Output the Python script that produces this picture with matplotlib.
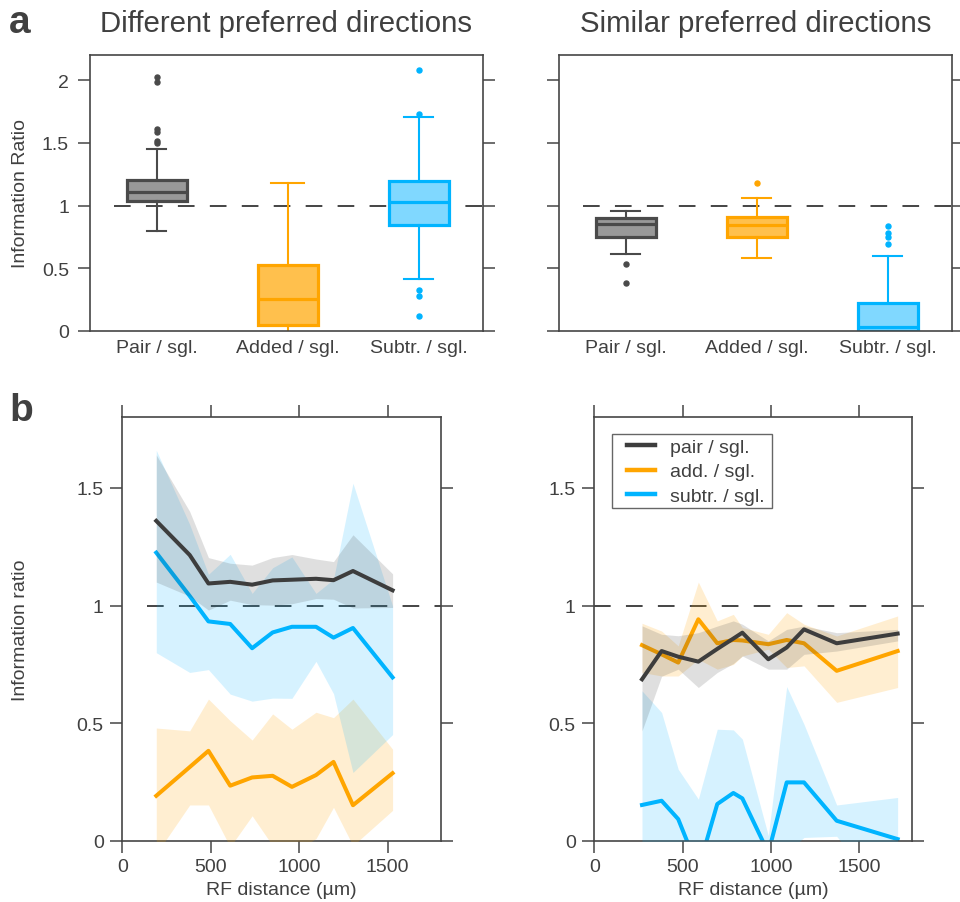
import matplotlib
matplotlib.use('Agg')
import matplotlib.pyplot as plt
from matplotlib.patches import Rectangle

plt.rcParams['font.family'] = ['Liberation Sans', 'DejaVu Sans']
plt.rcParams['lines.scale_dashes'] = False

TXT = '#404040'
SPINE = '#454545'

# ---------------- data ----------------
categories = ['Pair / sgl.', 'Added / sgl.', 'Subtr. / sgl.']
panel_titles = ['Different preferred directions', 'Similar preferred directions']

# box stats as [whislo, q1, median, q3, whishi]
diff_pair = [0.796, 1.040, 1.106, 1.204, 1.451]
diff_pair_out = [2.021, 1.987, 1.610, 1.589, 1.517, 1.499]
diff_added = [-0.02, 0.045, 0.252, 0.530, 1.178]
diff_added_out = []
diff_subtr = [0.416, 0.843, 1.029, 1.199, 1.703]
diff_subtr_out = [2.082, 1.727, 0.324, 0.276, 0.122]

sim_pair = [0.610, 0.753, 0.851, 0.899, 0.955]
sim_pair_out = [0.533, 0.385]
sim_added = [0.584, 0.751, 0.843, 0.910, 1.064]
sim_added_out = [1.183]
sim_subtr = [-0.02, 0.0, 0.03, 0.225, 0.600]
sim_subtr_out = [0.838, 0.785, 0.748, 0.690]

diff_capwidths = [0.145, 0.25, 0.22]
sim_capwidths = [0.22, 0.22, 0.22]

# RF distance curves, different preferred directions
dist_diff = [192, 381, 487, 610, 734, 850, 959, 1095, 1194, 1304, 1528]
pair_diff = [1.360, 1.215, 1.094, 1.101, 1.089, 1.107, 1.110, 1.114, 1.108, 1.147, 1.065]
pair_diff_hi = [1.640, 1.400, 1.204, 1.180, 1.172, 1.204, 1.217, 1.198, 1.187, 1.301, 1.135]
pair_diff_lo = [1.100, 1.040, 0.981, 1.023, 1.004, 1.002, 1.008, 1.030, 1.027, 0.990, 0.992]
add_diff = [0.192, 0.314, 0.383, 0.235, 0.270, 0.277, 0.230, 0.280, 0.336, 0.152, 0.288]
add_diff_hi = [0.480, 0.468, 0.603, 0.511, 0.429, 0.540, 0.475, 0.547, 0.524, 0.603, 0.390]
add_diff_lo = [-0.055, 0.153, 0.153, -0.025, 0.107, -0.020, -0.050, 0.010, 0.143, -0.020, 0.130]
sub_diff = [1.225, 1.041, 0.933, 0.922, 0.819, 0.886, 0.910, 0.910, 0.864, 0.905, 0.695]
sub_diff_hi = [1.660, 1.345, 1.133, 1.218, 1.052, 1.161, 1.207, 1.052, 1.112, 1.520, 0.999]
sub_diff_lo = [0.800, 0.716, 0.728, 0.624, 0.594, 0.607, 0.606, 0.763, 0.626, 0.291, 0.452]

# RF distance curves, similar preferred directions
dist_sim = [270, 381, 475, 589, 696, 787, 838, 985, 1089, 1187, 1372, 1717]
pair_sim = [0.687, 0.807, 0.783, 0.762, 0.816, 0.860, 0.885, 0.772, 0.822, 0.899, 0.840, 0.881]
pair_sim_hi = [0.914, 0.878, 0.872, 0.885, 0.913, 0.935, 0.921, 0.850, 0.899, 0.913, 0.885, 0.899]
pair_sim_lo = [0.468, 0.700, 0.730, 0.652, 0.716, 0.754, 0.786, 0.730, 0.730, 0.793, 0.807, 0.850]
add_sim = [0.832, 0.793, 0.758, 0.942, 0.840, 0.854, 0.852, 0.836, 0.854, 0.840, 0.723, 0.807]
add_sim_hi = [0.925, 0.892, 0.829, 1.100, 0.935, 0.963, 0.907, 0.878, 0.970, 0.921, 0.871, 0.956]
add_sim_lo = [0.716, 0.701, 0.701, 0.772, 0.730, 0.750, 0.786, 0.815, 0.737, 0.744, 0.589, 0.652]
sub_sim = [0.153, 0.171, 0.093, -0.120, 0.157, 0.204, 0.181, -0.050, 0.249, 0.249, 0.086, 0.008]
sub_sim_hi = [0.638, 0.546, 0.305, 0.178, 0.475, 0.472, 0.433, 0.023, 0.656, 0.496, 0.153, 0.185]
sub_sim_lo = [-0.2, -0.2, -0.2, -0.3, -0.2, -0.2, -0.2, -0.3, -0.05, 0.015, 0.02, -0.3]

legend_labels = ['pair / sgl.', 'add. / sgl.', 'subtr. / sgl.']

# ---------------- styles ----------------
GRAY_E, GRAY_F = '#4a4a4a', '#999999'
ORG_E, ORG_F = '#ffa500', '#ffc04d'
BLU_E, BLU_F = '#00b4ff', '#80d8ff'
LINE_K, LINE_O, LINE_B = '#3d3d3d', '#ffa500', '#00b4ff'

W, H = 960, 903
fig = plt.figure(figsize=(W / 100, H / 100), dpi=100)


def px_axes(l, t, r, b):
    return fig.add_axes([l / W, 1 - b / H, (r - l) / W, (b - t) / H])


ax_tl = px_axes(90, 56, 483, 332)
ax_tr = px_axes(559, 56, 952, 332)
ax_bl = px_axes(122.3, 418.3, 440.7, 842)
ax_br = px_axes(594.3, 418.3, 912.3, 842)


def style_spines(ax):
    for s in ax.spines.values():
        s.set_color(SPINE)
        s.set_linewidth(1.2)


def box_panel(ax, boxes, outs, capw, title, show_labels):
    cols = [(GRAY_E, GRAY_F), (ORG_E, ORG_F), (BLU_E, BLU_F)]
    for i, (b, o, cw, (ec, fc)) in enumerate(zip(boxes, outs, capw, cols)):
        st = dict(whislo=b[0], q1=b[1], med=b[2], q3=b[3], whishi=b[4], fliers=o)
        ax.bxp([st], positions=[i + 1], widths=0.46, capwidths=[cw],
               patch_artist=True, showfliers=True,
               boxprops=dict(facecolor=fc, edgecolor=ec, linewidth=2.3),
               medianprops=dict(color=ec, linewidth=2.3),
               whiskerprops=dict(color=ec, linewidth=1.5),
               capprops=dict(color=ec, linewidth=1.5),
               flierprops=dict(marker='o', markersize=3.6, markerfacecolor=ec,
                               markeredgecolor=ec, linestyle='none'))
    ax.set_xlim(0.49, 3.49)
    ax.set_ylim(0, 2.2)
    ax.set_xticks([1, 2, 3])
    ax.set_xticklabels(categories)
    ax.set_yticks([0, 0.5, 1, 1.5, 2])
    ax.set_yticklabels(['0', '0.5', '1', '1.5', '2'] if show_labels else [])
    ax.tick_params(axis='x', length=0, pad=5.5, labelsize=14, labelcolor=TXT)
    ax.tick_params(axis='y', direction='out', length=8.6, width=1.1, color=SPINE,
                   left=True, right=True, pad=6.5, labelsize=14, labelcolor=TXT)
    ax.axhline(1, xmin=0.061, xmax=1, color='#444444', lw=1.4, dashes=(12, 11), zorder=0.5)
    ax.set_title(title, fontsize=21.2, color=TXT, pad=17)
    style_spines(ax)


box_panel(ax_tl, [diff_pair, diff_added, diff_subtr],
          [diff_pair_out, diff_added_out, diff_subtr_out], diff_capwidths,
          panel_titles[0], True)
box_panel(ax_tr, [sim_pair, sim_added, sim_subtr],
          [sim_pair_out, sim_added_out, sim_subtr_out], sim_capwidths,
          panel_titles[1], False)


def curve_panel(ax, x, series, dash_xmin):
    (pm, plo, phi, pc, pa), (am, alo, ahi, ac, aa), (sm, slo, shi, sc, sa) = series
    # lower lines first, then confidence bands, then the pair line on top
    hs, = ax.plot(x, sm, color=sc, lw=2.9, zorder=2)
    ha, = ax.plot(x, am, color=ac, lw=2.9, zorder=2)
    ax.fill_between(x, alo, ahi, color=ac, alpha=aa, lw=0, zorder=3)
    ax.fill_between(x, slo, shi, color=sc, alpha=sa, lw=0, zorder=3)
    ax.fill_between(x, plo, phi, color=pc, alpha=pa, lw=0, zorder=3)
    hp, = ax.plot(x, pm, color=pc, lw=2.9, zorder=4)
    ax.set_xlim(0, 1800)
    ax.set_ylim(0, 1.8)
    ax.set_xticks([0, 500, 1000, 1500])
    ax.set_yticks([0, 0.5, 1, 1.5])
    ax.set_yticklabels(['0', '0.5', '1', '1.5'])
    ax.tick_params(axis='both', direction='out', length=8.6, width=1.1, color=SPINE,
                   labelsize=14, labelcolor=TXT)
    ax.tick_params(axis='x', top=True, bottom=True, pad=3.5)
    ax.tick_params(axis='y', left=True, right=True, pad=4.8)
    ax.axhline(1, xmin=dash_xmin, xmax=1, color='#444444', lw=1.4, dashes=(12, 11), zorder=1)
    ax.set_xlabel('RF distance (µm)', fontsize=14, color=TXT)
    ax.xaxis.set_label_coords(0.5, -0.094)
    style_spines(ax)
    return [hp, ha, hs]


curve_panel(ax_bl, dist_diff, [
    (pair_diff, pair_diff_lo, pair_diff_hi, LINE_K, 0.16),
    (add_diff, add_diff_lo, add_diff_hi, LINE_O, 0.18),
    (sub_diff, sub_diff_lo, sub_diff_hi, LINE_B, 0.16)], 0.077)
hs = curve_panel(ax_br, dist_sim, [
    (pair_sim, pair_sim_lo, pair_sim_hi, LINE_K, 0.16),
    (add_sim, add_sim_lo, add_sim_hi, LINE_O, 0.18),
    (sub_sim, sub_sim_lo, sub_sim_hi, LINE_B, 0.16)], 0.0)

# legend frame drawn separately so padding can differ horizontally/vertically
ax_br.add_patch(Rectangle((0.0547, 0.7850), 0.503, 0.1756, transform=ax_br.transAxes,
                          facecolor='white', edgecolor='#666666', lw=1.0, zorder=5))
leg = ax_br.legend(hs, legend_labels, loc='upper left', bbox_to_anchor=(0.1028, 0.951),
                   borderaxespad=0, borderpad=0, fontsize=14, frameon=False,
                   handlelength=1.44, handletextpad=0.75, labelspacing=0.37)
leg.set_zorder(6)
for t in leg.get_texts():
    t.set_color(TXT)
for ln in leg.get_lines():
    ln.set_linewidth(3.2)

fig.text(21 / W, 1 - 194 / H, 'Information Ratio', rotation=90, ha='center', va='center',
         fontsize=14, color=TXT)
fig.text(21 / W, 1 - 630 / H, 'Information ratio', rotation=90, ha='center', va='center',
         fontsize=14, color=TXT)
fig.text(9 / W, 1 - 33 / H, 'a', fontsize=28, fontweight='bold', color=TXT, va='baseline')
fig.text(9 / W, 1 - 421 / H, 'b', fontsize=28, fontweight='bold', color=TXT, va='baseline')

fig.savefig('out.png', dpi=100)
